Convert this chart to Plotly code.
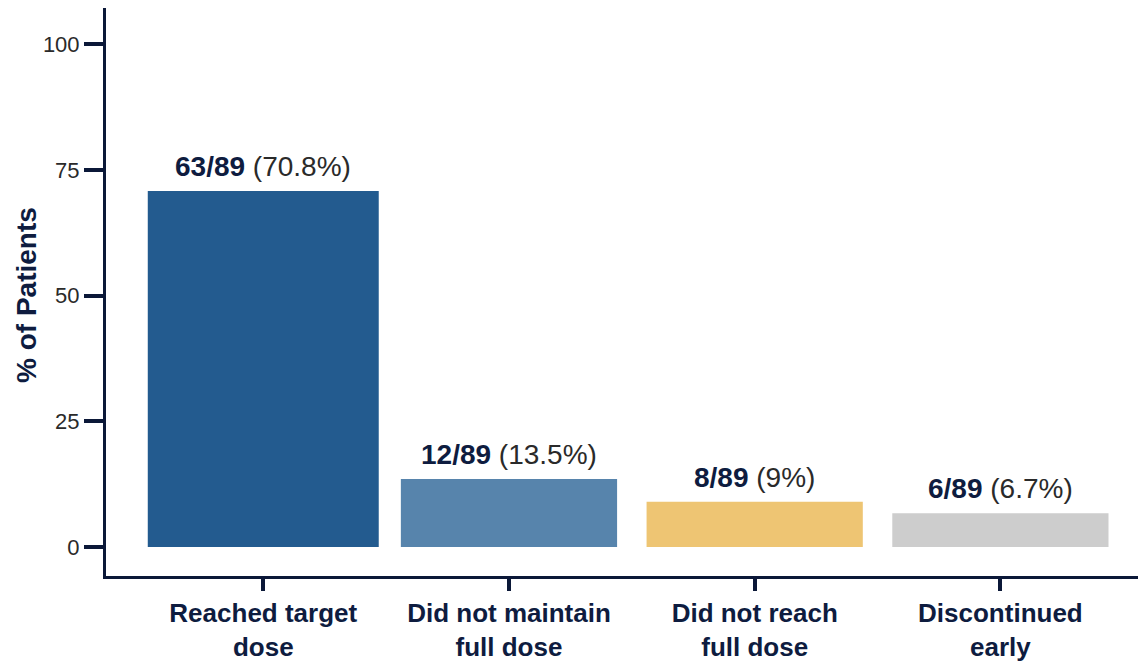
import plotly.graph_objects as go

# Dose outcome categories and their counts / percentages
categories = ["Reached target<br>dose", "Did not maintain<br>full dose",
              "Did not reach<br>full dose", "Discontinued<br>early"]
counts = ["63/89", "12/89", "8/89", "6/89"]
pct_labels = ["70.8%", "13.5%", "9%", "6.7%"]
percent = [70.8, 13.5, 9.0, 6.7]
y_ticks = [0, 25, 50, 75, 100]

bar_colors = ["#235B8F", "#5784AC", "#EEC573", "#CDCDCD"]
bar_widths = [0.94, 0.88, 0.88, 0.88]
navy = "#0E1C3F"
axis_col = "#0B1838"
FONT = "Liberation Sans, Arial, sans-serif"

L, T, B = 106, 8, 85
W, H = 1138, 661

fig = go.Figure()
fig.add_trace(go.Bar(
    x=categories, y=percent,
    marker=dict(color=bar_colors, line=dict(width=0)),
    width=bar_widths,
    hoverinfo="skip",
))

# value labels above each bar
for cat, c, p, v in zip(categories, counts, pct_labels, percent):
    fig.add_annotation(
        x=cat, y=v, xref="x", yref="y",
        text=f"<b>{c}</b> <span style='color:#2a2a2a'>({p})</span>",
        showarrow=False, yanchor="bottom", yshift=7,
        font=dict(family=FONT, size=28, color=navy),
    )

# rotated y-axis title
fig.add_annotation(
    x=(27 - L) / (W - L), y=(H - B - 295) / (H - B - T),
    xref="paper", yref="paper", xanchor="center", yanchor="middle",
    text="<b>% of Patients</b>", textangle=-90, showarrow=False,
    font=dict(family=FONT, size=28, color=navy),
)

fig.update_layout(
    width=W, height=H,
    margin=dict(l=L, r=0, t=T, b=B),
    paper_bgcolor="white", plot_bgcolor="white",
    showlegend=False,
    xaxis=dict(
        type="category", range=[-0.64, 3.56],
        showline=True, linecolor=axis_col, linewidth=3,
        ticks="outside", ticklen=12, tickwidth=4, tickcolor=axis_col,
        showgrid=False, zeroline=False,
        tickfont=dict(family=FONT, size=26, color=navy),
        tickprefix="<b>", ticksuffix="</b>",
    ),
    yaxis=dict(
        range=[-5.77, 107.2],
        tickvals=y_ticks, ticktext=[str(t) for t in y_ticks],
        showline=True, linecolor=axis_col, linewidth=3,
        ticks="outside", ticklen=19, tickwidth=4, tickcolor=axis_col,
        showgrid=False, zeroline=False,
        tickfont=dict(family=FONT, size=22, color="#2a2a2a"),
    ),
)

fig.write_html("out.html")
